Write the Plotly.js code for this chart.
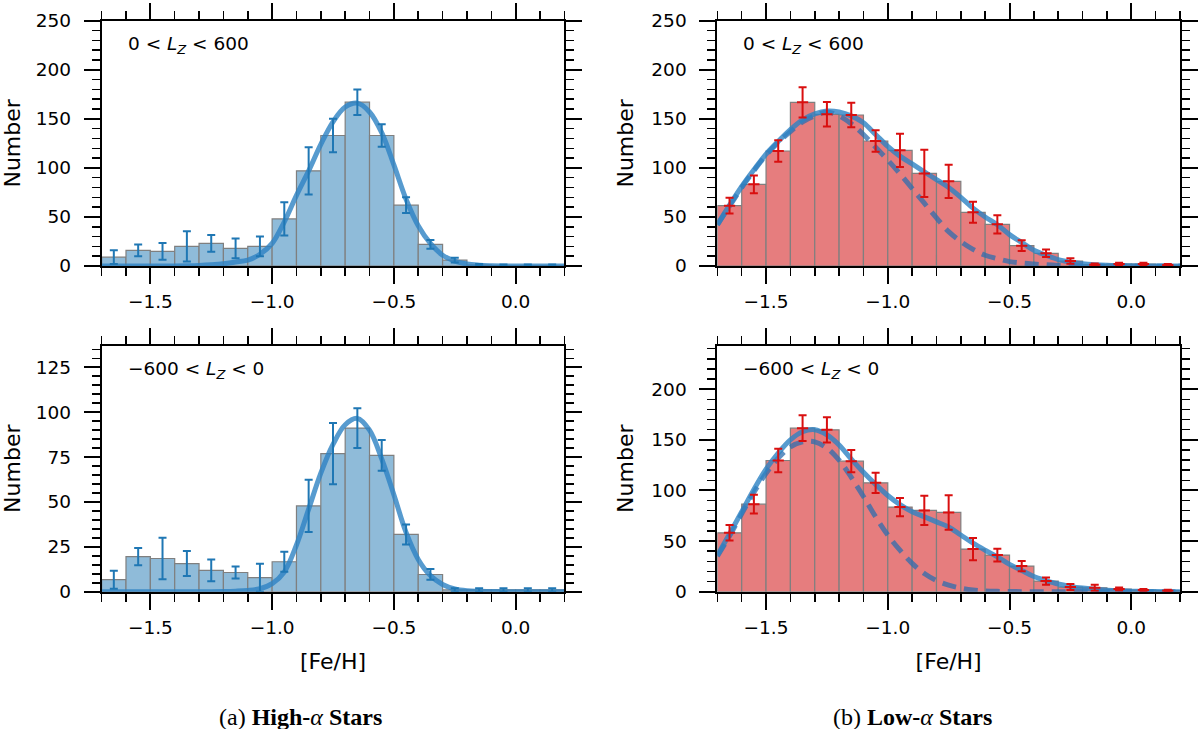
<!DOCTYPE html>
<html>
<head>
<meta charset="utf-8">
<script src="https://cdn.plot.ly/plotly-3.0.1.min.js"></script>
<style>
  body { margin: 0; background: #fff; }
  #chartcontainer { width: 1200px; height: 729px; }
</style>
</head>
<body>
<div id="chartcontainer"></div>
<script>
// bin centres of the [Fe/H] histograms (bin width 0.1)
var binCenters = [-1.65, -1.55, -1.45, -1.35, -1.25, -1.15, -1.05, -0.95, -0.85, -0.75,
                  -0.65, -0.55, -0.45, -0.35, -0.25, -0.15, -0.05, 0.05, 0.15];

// High-alpha, 0 < Lz < 600
var hiPosCounts = [9, 16, 15, 20, 23, 18, 20, 48, 97, 133, 167, 133, 62, 22, 6, 1, 0.5, 0.5, 0.5];
var hiPosErr = [7, 6, 8.5, 15.5, 8.5, 10, 10, 17, 24, 17, 13, 11.5, 8, 4.5, 2.5, 1, 1, 1, 1];
// High-alpha, -600 < Lz < 0
var hiNegCounts = [6.7, 19.6, 18.5, 15.7, 11.9, 10.7, 7.8, 16.7, 47.8, 76.9, 91.1, 75.9, 31.9, 9.6, 1, 1, 1, 1, 1];
var hiNegErr = [5, 4.8, 11.6, 7, 6, 3.3, 7.8, 5.6, 14.5, 17, 11, 8.6, 5.6, 3, 1, 1, 1, 1, 1];
// Low-alpha, 0 < Lz < 600
var loPosCounts = [61.5, 83.2, 117.2, 166.8, 154.6, 153.9, 127.4, 117.9, 94.4, 86.3, 54.7, 42.5, 20.7, 12.9, 5.1, 1.4, 2, 2, 1];
var loPosErr = [8, 9, 11, 15.5, 12.5, 12.5, 11, 17, 24, 17, 10.7, 9.3, 5.5, 3.8, 2.8, 1.2, 1.4, 1.4, 1];
// Low-alpha, -600 < Lz < 0
var loNegCounts = [58.2, 86.5, 129.6, 161.5, 159.9, 128.9, 107.6, 83.6, 80.3, 78.3, 42.1, 36.2, 25.3, 10.5, 4.6, 3.9, 2.6, 1.6, 1];
var loNegErr = [7.7, 9.2, 11.7, 12.7, 12.5, 11, 10, 9, 14.5, 17, 11, 6.3, 5, 3.6, 3, 3, 1.5, 1.2, 1];

var fitX = [-1.70, -1.65, -1.60, -1.55, -1.50, -1.45, -1.40, -1.35, -1.30, -1.25,
            -1.20, -1.15, -1.10, -1.05, -1.00, -0.95, -0.90, -0.85, -0.80, -0.75,
            -0.70, -0.65, -0.60, -0.55, -0.50, -0.45, -0.40, -0.35, -0.30, -0.25,
            -0.20, -0.15, -0.10, -0.05, 0.00, 0.05, 0.10, 0.15, 0.20];
var hiPosFit = [0, 0, 0, 0, 0, 0, 0.1, 0.3, 0.6, 1.2,
                2.2, 4, 6, 12, 23, 45, 72, 97, 124, 147,
                162, 166, 157, 136, 103, 68, 41, 23, 11, 5,
                2, 0.8, 0.3, 0.1, 0, 0, 0, 0, 0];
var hiNegFit = [0, 0, 0, 0, 0, 0, 0, 0, 0, 0,
                0.1, 0.3, 0.7, 1.7, 4.5, 11, 26, 46, 66, 82,
                93, 96.5, 90, 74, 54, 33, 18, 9, 4, 1.5,
                0.5, 0.2, 0.1, 0, 0, 0, 0, 0, 0];
var loPosFit = [42, 62, 81, 98, 114, 127, 139, 149, 155, 158,
                157, 153, 146, 134, 122, 112, 104, 96, 88, 80,
                70, 59, 50, 42, 32, 24, 16, 11, 6.5, 4,
                2.3, 1.3, 0.7, 0.4, 0.2, 0.1, 0.1, 0, 0];
var loPosFitMain = [42, 61, 80, 97, 113, 126, 137, 147, 153, 157,
                    153, 145, 134, 121, 108, 94, 79, 64, 49, 35,
                    25, 17, 11, 7.5, 4.5, 3, 2, 1.2, 0.6, 0.3,
                    0.1, 0, 0, 0, 0, 0, 0, 0, 0];
var loNegFit = [36, 57, 79, 101, 121, 137, 150, 158, 160, 155,
                145, 131, 118, 106, 95, 86, 79, 74, 69, 64,
                56, 48, 41, 34.5, 27, 21, 15, 11, 7.6, 5.3,
                3.6, 2.4, 1.5, 0.9, 0.5, 0.3, 0.2, 0.1, 0.1];
var loNegFitMain = [35, 55, 77, 98, 117, 132, 143, 148, 148, 142,
                    130, 113, 94, 74, 56, 41, 28, 18, 11, 6.5,
                    3.5, 1.7, 0.8, 0.4, 0.2, 0.1, 0, 0, 0, 0,
                    0, 0, 0, 0, 0, 0, 0, 0, 0];

var panelLabels = ['0 &lt; <i>L</i><sub><i>Z</i></sub> &lt; 600',
                   '\u2212600 &lt; <i>L</i><sub><i>Z</i></sub> &lt; 0'];
var captions = ['(a) <b>High-</b><i>\u03b1</i><b> Stars</b>',
                '(b) <b>Low-</b><i>\u03b1</i><b> Stars</b>'];

var blueBar = '#8fbbd9', redBar = '#e67d7e';
var blueErr = '#1f77b4', redErr = '#d90f0f';
var fitColor = 'rgba(45,130,195,0.8)';
var mainColor = 'rgba(45,110,175,0.75)';

// one panel = histogram + fit curve(s) + error bars
function panelTraces(xa, ya, counts, errs, barColor, errColor, fit, fitMain, withMarker) {
  var traces = [];
  traces.push({
    type: 'bar', x: binCenters, y: counts, width: 0.1,
    xaxis: xa, yaxis: ya,
    marker: {color: barColor, line: {color: '#7f7f7f', width: 1.2}},
    hoverinfo: 'skip'
  });
  if (fitMain) {
    traces.push({
      type: 'scatter', mode: 'lines', x: fitX, y: fitMain, xaxis: xa, yaxis: ya,
      line: {color: mainColor, width: 5, dash: '14px,8px', shape: 'spline'}
    });
  }
  traces.push({
    type: 'scatter', mode: 'lines', x: fitX, y: fit, xaxis: xa, yaxis: ya,
    line: {color: fitColor, width: 5, shape: 'spline'}
  });
  traces.push({
    type: 'scatter', mode: 'markers', x: binCenters, y: counts, xaxis: xa, yaxis: ya,
    marker: withMarker ? {symbol: 'line-ew', size: 8, line: {color: errColor, width: 2}}
                       : {size: 1, opacity: 0},
    error_y: {type: 'data', array: errs, color: errColor, thickness: 2, width: 4}
  });
  return traces;
}

var data = [].concat(
  panelTraces('x', 'y', hiPosCounts, hiPosErr, blueBar, blueErr, hiPosFit, null, false),
  panelTraces('x2', 'y2', hiNegCounts, hiNegErr, blueBar, blueErr, hiNegFit, null, false),
  panelTraces('x3', 'y3', loPosCounts, loPosErr, redBar, redErr, loPosFit, loPosFitMain, true),
  panelTraces('x4', 'y4', loNegCounts, loNegErr, redBar, redErr, loNegFit, loNegFitMain, true)
);

var tickFont = {family: 'DejaVu Sans', size: 18.5, color: '#000'};
var titleFont = {family: 'DejaVu Sans', size: 22, color: '#000'};

function xAxis(dom, anchor, withTitle) {
  var ax = {
    domain: dom, anchor: anchor, range: [-1.7, 0.2],
    showgrid: false, zeroline: false,
    showline: true, linecolor: '#000', linewidth: 2, mirror: 'allticks',
    ticks: 'outside', ticklen: 16, tickwidth: 2, tickcolor: '#000',
    tick0: 0, dtick: 0.5, tickformat: '.1f', tickfont: tickFont,
    ticklabelstandoff: 2,
    minor: {ticks: 'outside', dtick: 0.1, ticklen: 8, tickwidth: 1.5, tickcolor: '#000'}
  };
  if (withTitle) ax.title = {text: '[Fe/H]', font: titleFont, standoff: 17};
  return ax;
}

function yAxis(dom, anchor, top, major, minor) {
  return {
    domain: dom, anchor: anchor, range: [0, top],
    showgrid: false, zeroline: false,
    showline: true, linecolor: '#000', linewidth: 2, mirror: 'allticks',
    ticks: 'outside', ticklen: 16, tickwidth: 2, tickcolor: '#000',
    tick0: 0, dtick: major, tickfont: tickFont, ticklabelstandoff: 9,
    minor: {ticks: 'outside', dtick: minor, ticklen: 8, tickwidth: 1.5, tickcolor: '#000'},
    title: {text: 'Number', font: titleFont, standoff: 12}
  };
}

var leftDom = [0.0847, 0.4703], rightDom = [0.5978, 0.9833];
var topDom = [0.6351, 0.9716], botDom = [0.1883, 0.5258];

function panelLabel(xr, yr, txt) {
  return {xref: xr + ' domain', yref: yr + ' domain', x: 0.052, y: 0.90,
          xanchor: 'left', yanchor: 'middle', showarrow: false, text: txt,
          font: {family: 'DejaVu Sans', size: 18.5, color: '#000'}};
}

function caption(xc, txt) {
  return {xref: 'paper', yref: 'paper', x: xc / 1200, y: 1 - 717 / 729,
          xanchor: 'center', yanchor: 'middle', showarrow: false, text: txt,
          font: {family: 'Liberation Serif', size: 24, color: '#000'}};
}

var layout = {
  width: 1200, height: 729,
  margin: {l: 0, r: 0, t: 0, b: 0},
  paper_bgcolor: '#fff', plot_bgcolor: '#fff',
  showlegend: false, bargap: 0,
  xaxis: xAxis(leftDom, 'y', false),
  yaxis: yAxis(topDom, 'x', 250, 50, 10),
  xaxis2: xAxis(leftDom, 'y2', true),
  yaxis2: yAxis(botDom, 'x2', 137, 25, 5),
  xaxis3: xAxis(rightDom, 'y3', false),
  yaxis3: yAxis(topDom, 'x3', 250, 50, 10),
  xaxis4: xAxis(rightDom, 'y4', true),
  yaxis4: yAxis(botDom, 'x4', 243, 50, 10),
  annotations: [
    panelLabel('x', 'y', panelLabels[0]),
    panelLabel('x2', 'y2', panelLabels[1]),
    panelLabel('x3', 'y3', panelLabels[0]),
    panelLabel('x4', 'y4', panelLabels[1]),
    caption(300, captions[0]),
    caption(912, captions[1])
  ]
};

Plotly.newPlot('chartcontainer', data, layout, {displayModeBar: false, staticPlot: true});
</script>
</body>
</html>
